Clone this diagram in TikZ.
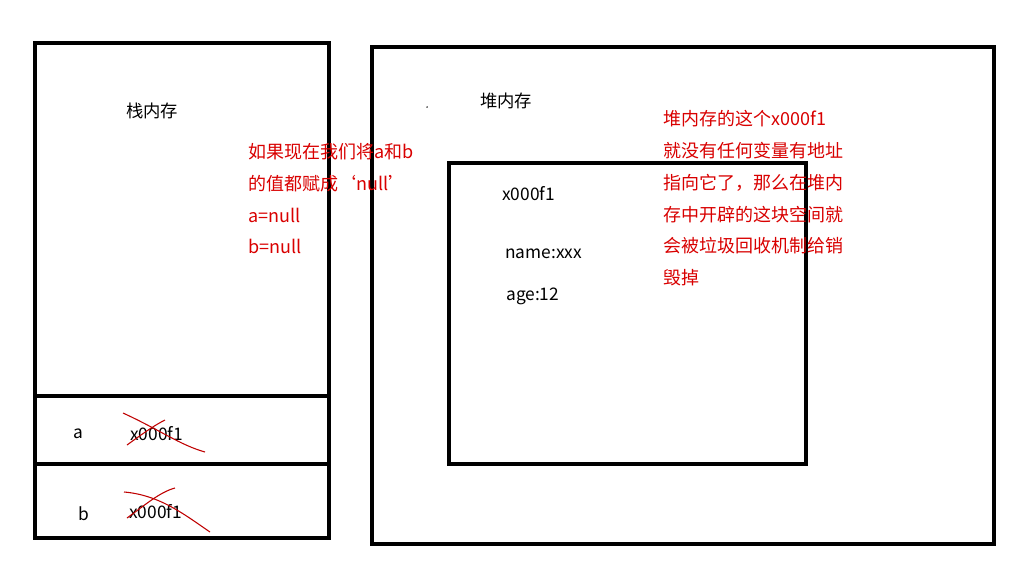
\documentclass[tikz,border=0pt]{standalone}
\usepackage{fontspec}
\setmainfont{Noto Sans CJK SC}
\begin{document}
\begin{tikzpicture}[x=0.75pt,y=-0.75pt,
  box/.style={draw=black,line width=3pt},
  lbl/.style={inner sep=0pt,anchor=west,font=\fontsize{13pt}{15pt}\selectfont},
  red/.style={lbl,text=red!85!black,align=left,font=\fontsize{13.5pt}{23.9pt}\selectfont},
  cross/.style={draw=red!75!black,line width=0.8pt}]
\useasboundingbox[fill=white] (0,0) rectangle (1024,575);
% stack
\draw[box] (35,43) rectangle (329,538);
\draw[box] (35,396) -- (329,396);
\draw[box] (35,464) -- (329,464);
% heap
\draw[box] (372,47) rectangle (994,544);
\draw[box] (449,163) rectangle (806,464);
\node[lbl] (stack) at (126,111) {栈内存};
\node[lbl] (heap) at (480,101) {堆内存};
\node[circle,fill=black,inner sep=0.4pt] (dot) at (427,107) {};
\node[lbl] (addr) at (502,194) {x000f1};
\node[lbl] (name) at (505,254) {name:xxx};
\node[lbl] (age) at (506,296) {age:12};
\node[lbl] (a) at (73,434) {a};
\node[lbl] (ax) at (130,434) {x000f1};
\node[lbl] (b) at (78,514) {b};
\node[lbl] (bx) at (129,512) {x000f1};
\node[red,anchor=north west] (note1) at (248,143) {如果现在我们将a和b\\的值都赋成‘null’\\a=null\\b=null};
\node[red,anchor=north west] (note2) at (663,110) {堆内存的这个x000f1\\就没有任何变量有地址\\指向它了，那么在堆内\\存中开辟的这块空间就\\会被垃圾回收机制给销\\毁掉};
% crosses
\draw[cross] (123,413) .. controls (160,430) and (180,445) .. (205,452);
\draw[cross] (127,445) .. controls (145,432) and (155,425) .. (165,420);
\draw[cross] (124,492) .. controls (160,495) and (185,515) .. (210,532);
\draw[cross] (127,518) .. controls (145,505) and (160,492) .. (175,488);
\end{tikzpicture}
\end{document}
